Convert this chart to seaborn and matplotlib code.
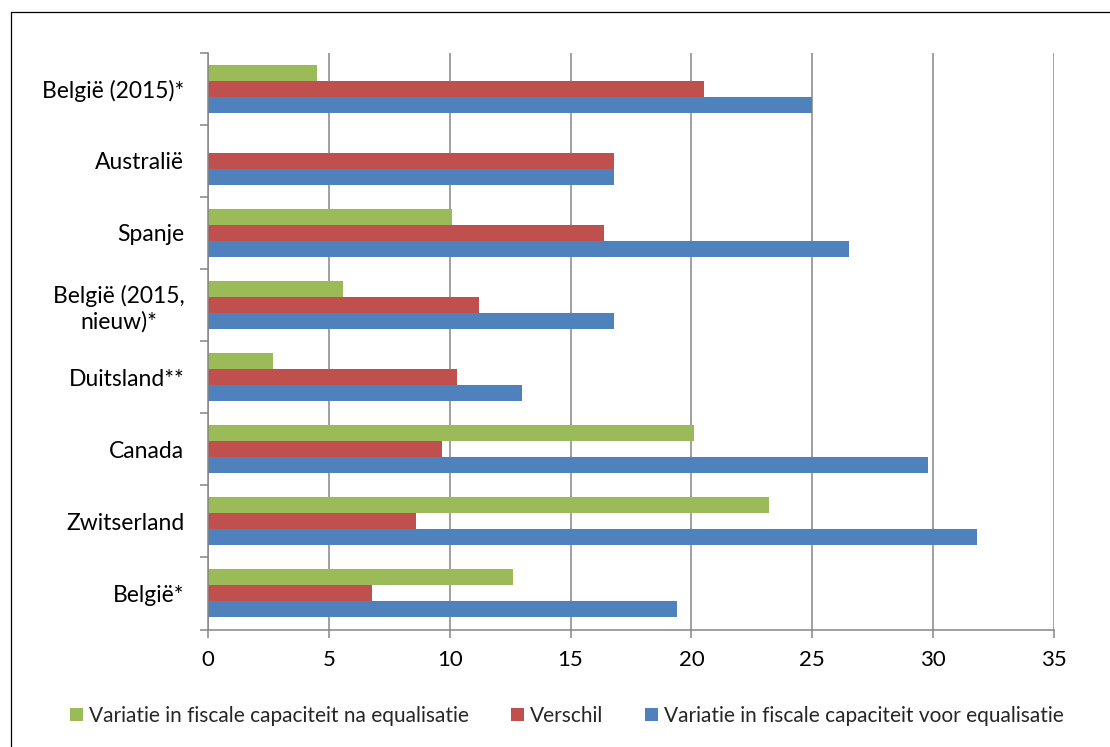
import numpy as np
import pandas as pd
import seaborn as sns
import matplotlib.pyplot as plt
from matplotlib.patches import Patch
from matplotlib.lines import Line2D

# data, top to bottom as shown
landen = [
    "België (2015)*",
    "Australië",
    "Spanje",
    "België (2015,\nnieuw)*",
    "Duitsland**",
    "Canada",
    "Zwitserland",
    "België*",
]
na_equalisatie = [4.5, 0.0, 10.1, 5.6, 2.7, 20.1, 23.2, 12.6]
verschil = [20.5, 16.8, 16.4, 11.2, 10.3, 9.7, 8.6, 6.8]
voor_equalisatie = [25.0, 16.8, 26.5, 16.8, 13.0, 29.8, 31.8, 19.4]

reeksen = [
    "Variatie in fiscale capaciteit na equalisatie",
    "Verschil",
    "Variatie in fiscale capaciteit voor equalisatie",
]
kleuren = ["#9BBB59", "#C0504D", "#4F81BD"]

df = pd.DataFrame(
    {
        "land": landen * 3,
        "waarde": na_equalisatie + verschil + voor_equalisatie,
        "reeks": [reeksen[0]] * 8 + [reeksen[1]] * 8 + [reeksen[2]] * 8,
    }
)

sns.set_style("white")
plt.rcParams["font.family"] = ["Lato", "DejaVu Sans"]

W, H = 1110, 747
fig = plt.figure(figsize=(W / 100, H / 100), dpi=100)
ax = fig.add_axes([208 / W, 1 - 629.5 / H, (1054 - 208) / W, (629.5 - 52.5) / H])

sns.barplot(
    data=df,
    y="land",
    x="waarde",
    hue="reeks",
    hue_order=reeksen,
    order=landen,
    orient="h",
    palette=kleuren,
    saturation=1,
    width=2 / 3,
    gap=0,
    edgecolor="none",
    linewidth=0,
    ax=ax,
)
ax.legend_.remove()

grijs = "#868686"
ax.set_xlim(0, 35)
ax.set_xticks(np.arange(0, 36, 5))
ax.set_ylim(7.5, -0.5)
ax.set_yticks(np.arange(-0.5, 8, 1), minor=True)
ax.set_xlabel("")
ax.set_ylabel("")
ax.grid(axis="x", color=grijs, linewidth=1.1)
ax.grid(axis="y", visible=False)
ax.set_axisbelow(True)

for s in ["top", "right"]:
    ax.spines[s].set_visible(False)
for s in ["left", "bottom"]:
    ax.spines[s].set_color(grijs)
    ax.spines[s].set_linewidth(1.1)

ax.tick_params(axis="y", which="major", length=0, pad=17, labelsize=16.5, labelcolor="black")
ax.tick_params(axis="y", which="minor", left=True, length=5.5, width=1.1, color=grijs)
ax.tick_params(axis="x", which="major", bottom=True, length=5.8, width=1.1, color=grijs,
               pad=9, labelsize=16, labelcolor="black")
for lbl in ax.get_yticklabels():
    lbl.set_multialignment("center")

# legend onder de grafiek
handles = [Patch(facecolor=c, edgecolor="none") for c in kleuren]
fig.legend(
    handles,
    reeksen,
    loc="center",
    bbox_to_anchor=(567 / W, 1 - 716 / H),
    ncol=3,
    frameon=False,
    fontsize=15,
    handlelength=0.62,
    handleheight=0.62,
    handletextpad=0.3,
    columnspacing=2.0,
)

# rand van het kader (alleen links en boven zichtbaar)
fig.add_artist(Line2D([10.5 / W, 10.5 / W], [0, 1 - 11.5 / H], color="black", linewidth=0.9))
fig.add_artist(Line2D([10.5 / W, 1], [1 - 11.5 / H, 1 - 11.5 / H], color="black", linewidth=0.9))

fig.savefig("out.png", dpi=100)
